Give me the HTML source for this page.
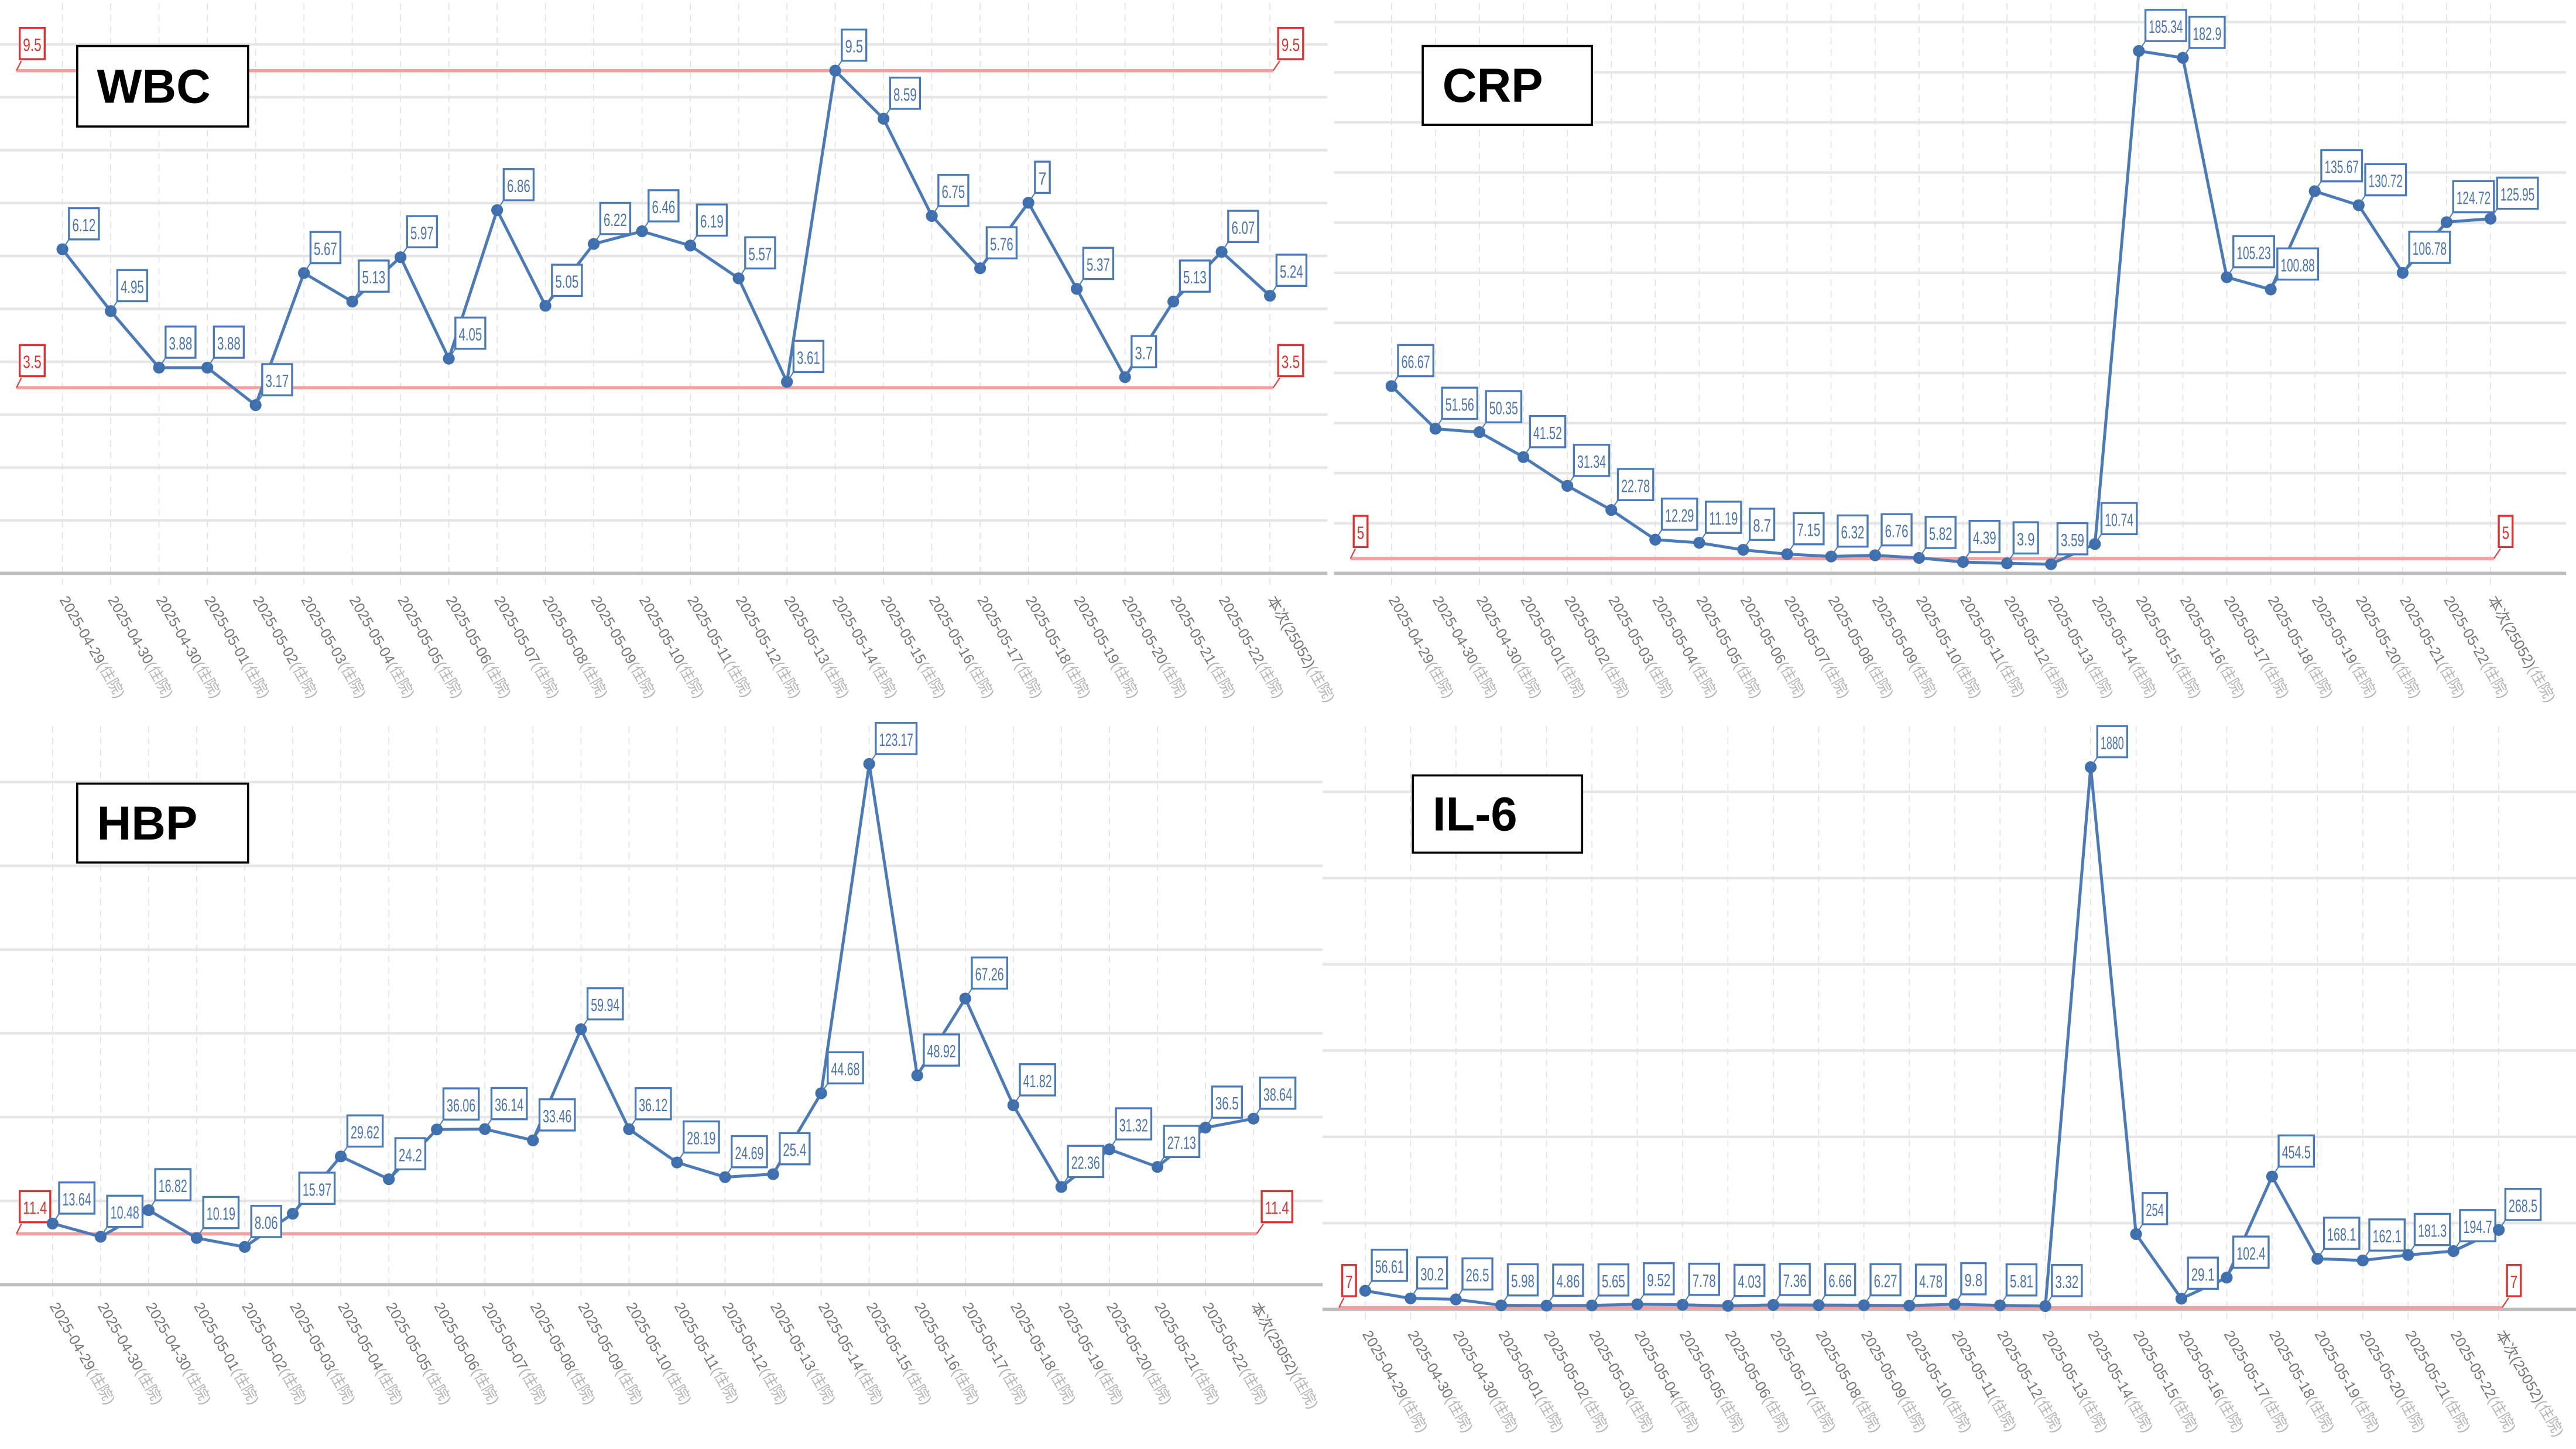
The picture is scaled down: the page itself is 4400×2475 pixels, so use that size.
<!DOCTYPE html>
<html><head><meta charset="utf-8"><style>
html,body{margin:0;padding:0;background:#fff;}
svg{display:block}
</style></head><body>
<svg id="s" xmlns="http://www.w3.org/2000/svg" width="4400" height="2475" viewBox="0 0 1568 882" preserveAspectRatio="none" font-family="Liberation Sans, Noto Sans CJK SC, sans-serif"></svg>
<script>
var S=document.getElementById('s');var out='';
var dates=['2025-04-29','2025-04-30','2025-04-30'];
for(var d=1;d<=22;d++)dates.push('2025-05-'+(d<10?'0':'')+d);
dates.push('本次(25052)');
var P=[
 {t:'WBC',x0:0,x1:808,yt:0,yb:349,px0:38,px1:773,v:[6.12,4.95,3.88,3.88,3.17,5.67,5.13,5.97,4.05,6.86,5.05,6.22,6.46,6.19,5.57,3.61,9.5,8.59,6.75,5.76,7,5.37,3.7,5.13,6.07,5.24],
  f:function(v){return 236-(v-3.5)*32.17},lim:[[9.5,43],[3.5,236]],gs:32.2,box:[47,28,104,49],lab:365},
 {t:'CRP',x0:812,x1:1562,yt:0,yb:349,px0:847,px1:1516,v:[66.67,51.56,50.35,41.52,31.34,22.78,12.29,11.19,8.7,7.15,6.32,6.76,5.82,4.39,3.9,3.59,10.74,185.34,182.9,105.23,100.88,135.67,130.72,106.78,124.72,125.95],
  f:function(v){return 235-(v-66.67)*1.719},lim:[[5,340]],gs:30.5,box:[866,28,103,48],lab:365},
 {t:'HBP',x0:0,x1:805,yt:440,yb:782,px0:32,px1:763,v:[13.64,10.48,16.82,10.19,8.06,15.97,29.62,24.2,36.06,36.14,33.46,59.94,36.12,28.19,24.69,25.4,44.68,123.17,48.92,67.26,41.82,22.36,31.32,27.13,36.5,38.64],
  f:function(v){return 759-(v-8.06)*2.554},lim:[[11.4,751]],gs:51,box:[47,477,104,48],lab:795},
 {t:'IL-6',x0:805,x1:1568,yt:440,yb:797,px0:831,px1:1521,v:[56.61,30.2,26.5,5.98,4.86,5.65,9.52,7.78,4.03,7.36,6.66,6.27,4.78,9.8,5.81,3.32,1880,254,29.1,102.4,454.5,168.1,162.1,181.3,194.7,268.5],
  f:function(v){return 795-(v-3.32)*0.1748},lim:[[7,796]],gs:52.5,box:[860,472,103,47],lab:812}
];
P.forEach(function(p){
 var n=p.v.length,st=(p.px1-p.px0)/(n-1);
 for(var y=p.yb-p.gs;y>p.yt+5;y-=p.gs)out+='<line x1="'+p.x0+'" x2="'+p.x1+'" y1="'+y+'" y2="'+y+'" stroke="#e6e6e6" stroke-width="1.6"/>';
 for(var i=0;i<n;i++){var x=p.px0+i*st;out+='<line x1="'+x+'" x2="'+x+'" y1="'+(p.yt+2)+'" y2="'+(p.yb+8)+'" stroke="#e2e2e2" stroke-width="0.6" stroke-dasharray="4,3"/>';}
 out+='<line x1="'+p.x0+'" x2="'+p.x1+'" y1="'+p.yb+'" y2="'+p.yb+'" stroke="#bdbdbd" stroke-width="2"/>';
 p.lim.forEach(function(l){var y=l[1];
  out+='<line x1="'+(p.x0+10)+'" x2="'+(p.px1+2)+'" y1="'+y+'" y2="'+y+'" stroke="#f4a0a0" stroke-width="2"/>';
  [[p.x0+10,p.x0+12],[p.px1+2,p.px1+5]].forEach(function(b){
   var s=String(l[0]),w=s.length*3.4+5;
   out+='<line x1="'+b[0]+'" y1="'+y+'" x2="'+(b[1]+1)+'" y2="'+(y-6)+'" stroke="#e04040" stroke-width="0.8"/>';
   out+='<rect x="'+b[1]+'" y="'+(y-26)+'" width="'+w+'" height="19" fill="#fff" stroke="#e03030" stroke-width="1.2"/>';
   out+='<text x="'+(b[1]+w/2)+'" y="'+(y-12)+'" font-size="11" fill="#e03030" text-anchor="middle" textLength="'+(w-4)+'" lengthAdjust="spacingAndGlyphs">'+s+'</text>';
  });
 });
 var pts=p.v.map(function(v,i){return (p.px0+i*st).toFixed(1)+','+p.f(v).toFixed(1)}).join(' ');
 out+='<polyline points="'+pts+'" fill="none" stroke="#4a7ab8" stroke-width="1.8"/>';
 p.v.forEach(function(v,i){var x=p.px0+i*st,y=p.f(v),s=String(v),w=Math.max(9,s.length*3.3+5);
  out+='<circle cx="'+x+'" cy="'+y+'" r="3.6" fill="#3f6fad"/>';
  out+='<line x1="'+x+'" y1="'+y+'" x2="'+(x+4)+'" y2="'+(y-6)+'" stroke="#4a7ab8" stroke-width="0.7"/>';
  out+='<rect x="'+(x+4)+'" y="'+(y-25)+'" width="'+w+'" height="19" fill="#fff" stroke="#4a7ab8" stroke-width="1.2"/>';
  out+='<text x="'+(x+4+w/2)+'" y="'+(y-11)+'" font-size="11" fill="#4a74ab" text-anchor="middle" textLength="'+(w-4)+'" lengthAdjust="spacingAndGlyphs">'+s+'</text>';
  out+='<text transform="translate('+(x-2)+','+p.lab+') rotate(60)" font-size="9" fill="#777">'+dates[i]+'<tspan fill="#b5b5b5">(住院)</tspan></text>';
 });
 var b=p.box;
 out+='<rect x="'+b[0]+'" y="'+b[1]+'" width="'+b[2]+'" height="'+b[3]+'" fill="#fff" stroke="#000" stroke-width="1.3"/>';
 out+='<text x="'+(b[0]+12)+'" y="'+(b[1]+b[3]/2+10)+'" font-size="29" font-weight="bold" fill="#000">'+p.t+'</text>';
});
S.innerHTML=out;
</script>
</body></html>
